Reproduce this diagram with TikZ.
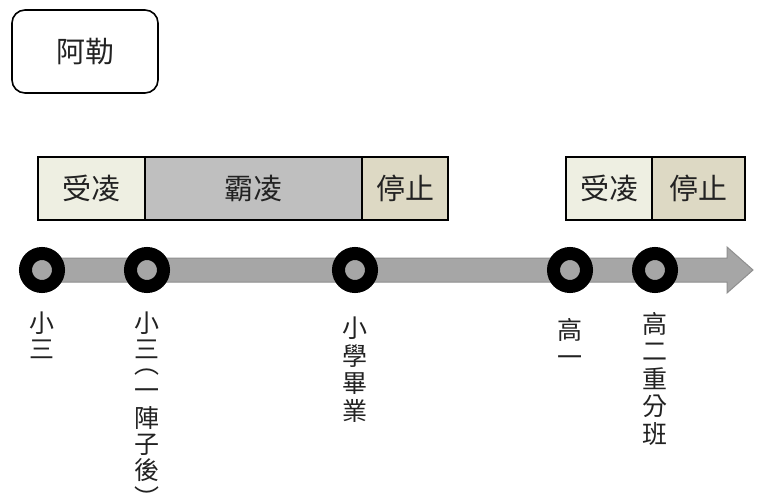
\documentclass[tikz,border=0pt]{standalone}
\usepackage{fontspec}
\newfontfamily\cjk{Noto Sans CJK TC}
\definecolor{lightcell}{HTML}{EEEFE2}
\definecolor{midcell}{HTML}{BFBFBF}
\definecolor{tancell}{HTML}{DDD9C4}
\definecolor{shaft}{HTML}{A6A6A6}
\definecolor{shaftedge}{HTML}{8F8F8F}
\definecolor{txt}{HTML}{222222}
\begin{document}
\begin{tikzpicture}[x=1pt,y=-1pt,
  cell/.style={draw=black,line width=1.6pt,minimum height=63pt,inner sep=0pt,text=txt,font=\cjk\fontsize{29}{32}\selectfont},
  ring/.style={circle,draw=black,line width=13pt,fill=shaft,minimum size=33pt,inner sep=0pt},
  vlab/.style={anchor=north,align=center,inner sep=0pt,text=txt,font=\cjk\fontsize{25}{27.5}\selectfont},
  vlabs/.style={vlab,font=\cjk\fontsize{25}{26}\selectfont}]
\useasboundingbox (0,0) rectangle (757,495);
\fill[white] (0,0) rectangle (757,495);
% title box
\node[draw=black,line width=1.6pt,rounded corners=13pt,minimum width=146pt,minimum height=83pt,text=txt,font=\cjk\fontsize{29}{32}\selectfont] (title) at (85,51.5) {阿勒};
% top cells
\node[cell,fill=lightcell,minimum width=107pt] (a1) at (91.5,188.5) {受凌};
\node[cell,fill=midcell,minimum width=217pt] (a2) at (253.5,188.5) {霸凌};
\node[cell,fill=tancell,minimum width=86pt] (a3) at (405,188.5) {停止};
\node[cell,fill=lightcell,minimum width=86pt] (b1) at (609,188.5) {受凌};
\node[cell,fill=tancell,minimum width=93pt] (b2) at (698.5,188.5) {停止};
% arrow
\filldraw[fill=shaft,draw=shaftedge,line width=1pt,line join=miter]
  (38,258) -- (727,258) -- (727,247) -- (753,270) -- (727,293) -- (727,282) -- (38,282) -- cycle;
% rings
\node[ring] (c1) at (42,270) {};
\node[ring] (c2) at (147,270) {};
\node[ring] (c3) at (355,270) {};
\node[ring] (c4) at (570,270) {};
\node[ring] (c5) at (655,270) {};
% labels
\node[vlabs] (l1) at (42,312) {小\\三};
\node[vlabs] (l2) at (147,312) {小\\三\\[-11.5pt]︵\\[0.5pt]一\\[2pt]陣\\子\\後\\[1.5pt]︶};
\node[vlab] (l3) at (355,317) {小\\學\\畢\\業};
\node[vlab] (l4) at (570,318) {高\\一};
\node[vlab] (l5) at (655,312) {高\\二\\重\\分\\班};
\end{tikzpicture}
\end{document}
